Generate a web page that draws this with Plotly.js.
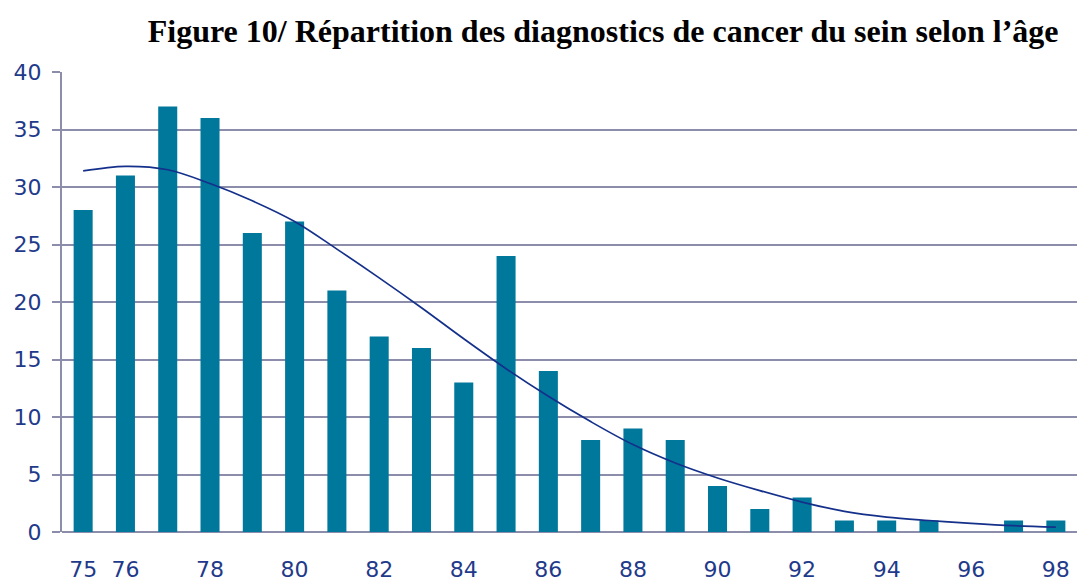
<!DOCTYPE html>
<html>
<head>
<meta charset="utf-8">
<script src="https://cdn.plot.ly/plotly-3.0.1.min.js"></script>
<style>html,body{margin:0;padding:0;background:#fff;}#chart{width:1077px;height:583px;}</style>
</head>
<body>
<div id="chart"></div>
<script>
const ages = [75,76,77,78,79,80,81,82,83,84,85,86,87,88,89,90,91,92,93,94,95,96,97,98];
const counts = [28,31,37,36,26,27,21,17,16,13,24,14,8,9,8,4,2,3,1,1,1,0,1,1];
const trend = [31.4,31.8,31.5,30.3,28.8,27.0,24.6,22.1,19.5,16.8,14.2,11.8,9.6,7.6,6.0,4.7,3.6,2.6,1.8,1.3,1.0,0.75,0.55,0.43];
const tickAges = [75,76,78,80,82,84,86,88,90,92,94,96,98];
const yTicks = [0,5,10,15,20,25,30,35,40];
const titleText = "Figure 10/ Répartition des diagnostics de cancer du sein selon l’âge";

const gridColor = "#8c8cab";
const textColor = "#1f3a8a";

const data = [
  {type:"bar", x:ages, y:counts, marker:{color:"#00789c"}, hoverinfo:"x+y"},
  {type:"scatter", mode:"lines", x:ages, y:trend, line:{color:"#14308a", width:1.7, shape:"spline"}, hoverinfo:"skip"}
];
const layout = {
  width:1077, height:583,
  margin:{l:62, r:0, t:72, b:51},
  paper_bgcolor:"#fff", plot_bgcolor:"#fff",
  showlegend:false,
  bargap:0.55,
  title:{text:"<b>"+titleText+"</b>", x:0.56, xanchor:"center", y:0.948, yanchor:"middle",
         font:{family:"Liberation Serif, Times New Roman, serif", size:32, color:"#000"}},
  xaxis:{range:[74.5,98.5], tickmode:"array", tickvals:tickAges, ticktext:tickAges.map(String),
         showgrid:false, zeroline:false, showline:false, ticks:"",
         tickfont:{family:"DejaVu Sans, Verdana, sans-serif", size:22, color:textColor}, ticklabelstandoff:22},
  yaxis:{range:[0,40], tickmode:"array", tickvals:yTicks, showgrid:true, gridcolor:gridColor, gridwidth:2,
         zeroline:true, zerolinecolor:gridColor, zerolinewidth:2,
         showline:true, linecolor:gridColor, linewidth:2, ticks:"outside", ticklen:8, tickwidth:2, tickcolor:gridColor,
         ticklabelstandoff:6,
         tickfont:{family:"DejaVu Sans, Verdana, sans-serif", size:22, color:textColor}}
};
Plotly.newPlot("chart", data, layout, {displayModeBar:false, staticPlot:true});
</script>
</body>
</html>
